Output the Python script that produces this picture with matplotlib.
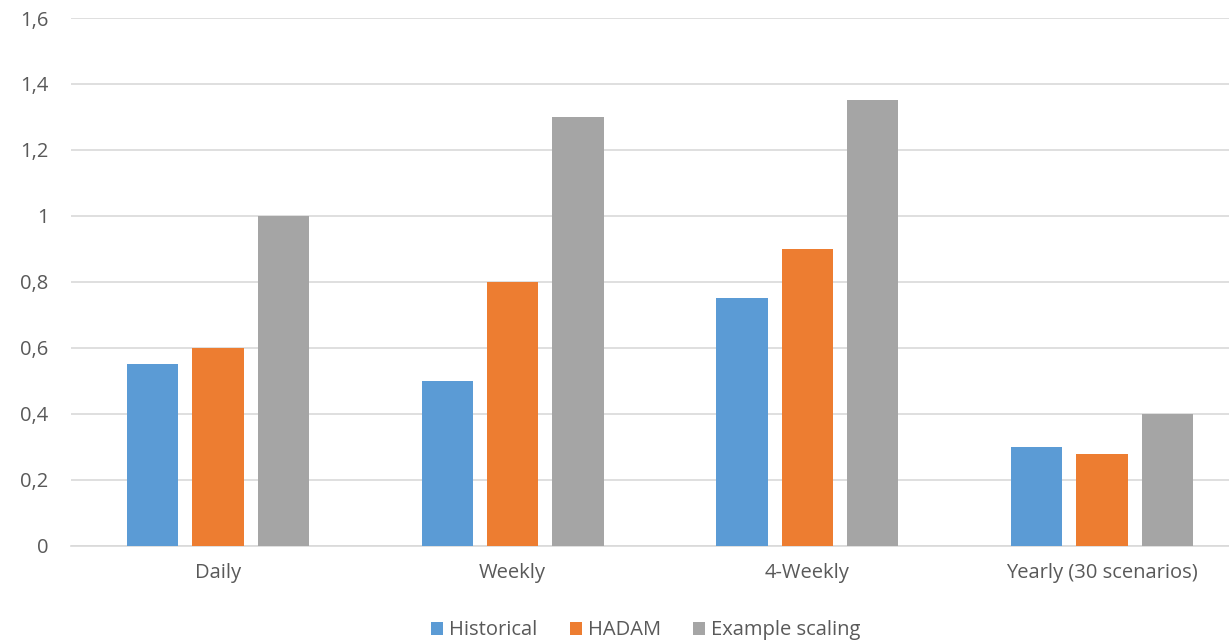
import matplotlib.pyplot as plt
import numpy as np
from matplotlib.ticker import FuncFormatter

categories = ['Daily', 'Weekly', '4-Weekly', 'Yearly (30 scenarios)']
historical = [0.55, 0.50, 0.75, 0.30]
hadam = [0.60, 0.80, 0.90, 0.28]
example_scaling = [1.00, 1.30, 1.35, 0.40]

series = [('Historical', historical, '#5b9bd5'),
          ('HADAM', hadam, '#ed7d31'),
          ('Example scaling', example_scaling, '#a5a5a5')]

plt.rcParams['font.family'] = ['Open Sans', 'DejaVu Sans']
text_color = '#595959'

fig = plt.figure(figsize=(12.29, 6.43), dpi=100)
# plot area runs slightly past the right edge of the figure
ax = fig.add_axes([0.0575, 0.151, 0.959, 0.821])

x = np.arange(len(categories))
step = 0.222
width = 0.174
for i, (name, vals, color) in enumerate(series):
    ax.bar(x + (i - 1) * step, vals, width, color=color, label=name, zorder=3)

ax.set_xlim(-0.5, len(categories) - 0.5)
ax.set_ylim(0, 1.6)
ax.set_yticks(np.arange(0, 1.61, 0.2))
ax.yaxis.set_major_formatter(FuncFormatter(
    lambda v, p: '0' if abs(v) < 1e-9 else ('1' if abs(v - 1) < 1e-9 else f'{v:.1f}'.replace('.', ','))))
ax.set_xticks(x)
ax.set_xticklabels(categories)
ax.grid(axis='y', color='#d9d9d9', linewidth=1.2, zorder=0)
for s in ['top', 'right', 'left']:
    ax.spines[s].set_visible(False)
ax.spines['bottom'].set_color('#d9d9d9')
ax.spines['bottom'].set_linewidth(1.2)
ax.tick_params(axis='both', length=0, labelsize=14.5, colors=text_color)
ax.tick_params(axis='x', pad=12)
ax.tick_params(axis='y', pad=16)

ax.legend(loc='center', bbox_to_anchor=(0.488, -0.16), ncol=3, frameon=False,
          fontsize=14.5, labelcolor=text_color, handlelength=0.6, handleheight=0.6,
          handletextpad=0.3, columnspacing=1.6)

fig.savefig('out.png', dpi=100)
